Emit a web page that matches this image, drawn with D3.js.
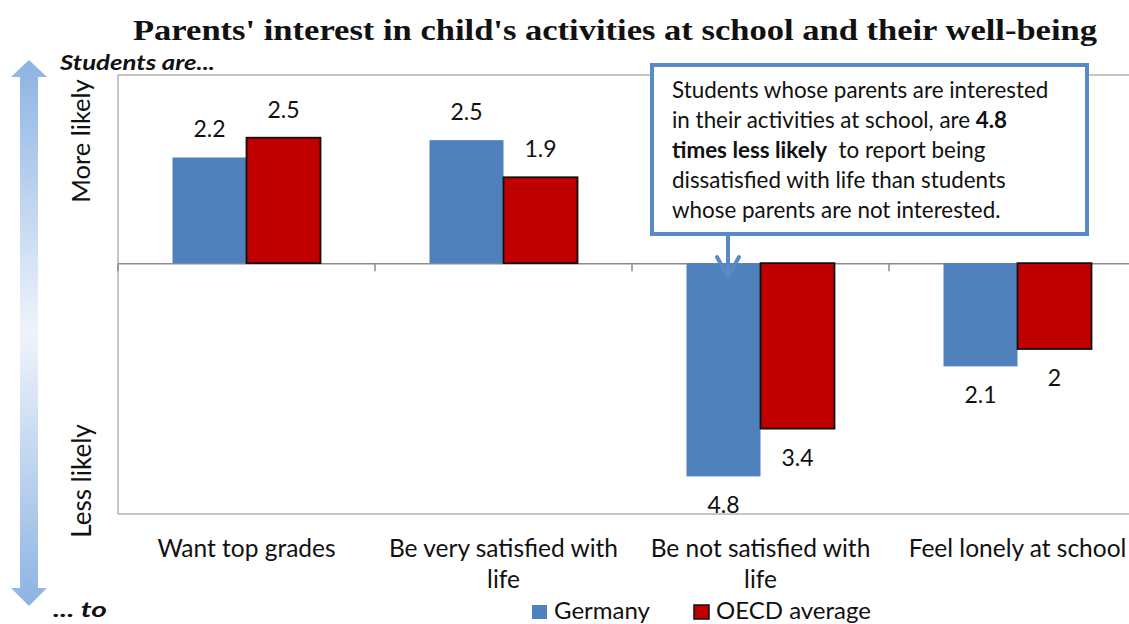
<!DOCTYPE html>
<html>
<head>
<meta charset="utf-8">
<script src="https://cdn.jsdelivr.net/npm/d3@7"></script>
<style>
  body { margin: 0; background: white; }
  svg { display: block; font-family: Lato, "Open Sans", sans-serif; }
</style>
</head>
<body>
<svg id="chart"></svg>
<script>
// categories and values
const categories = ["Want top grades", "Be very satisfied with life", "Be not satisfied with life", "Feel lonely at school"];
const categoryLines = [["Want top grades"], ["Be very satisfied with", "life"], ["Be not satisfied with", "life"], ["Feel lonely at school"]];
const series = ["Germany", "OECD average"];
// bar lengths as drawn (negative = less likely)
const germany = [2.19, 2.55, -4.42, -2.14];
const oecd = [2.6, 1.78, -3.43, -1.78];
// printed data labels
const germanyLabels = ["2.2", "2.5", "4.8", "2.1"];
const oecdLabels = ["2.5", "1.9", "3.4", "2"];

const colors = { "Germany": "#4f81bd", "OECD average": "#c00000" };

const width = 1129, height = 624;
const margin = { top: 75, right: -17, bottom: 110, left: 118 };

const svg = d3.select("#chart")
  .attr("width", width)
  .attr("height", height)
  .attr("viewBox", [0, 0, width, height]);

const x0 = d3.scaleBand()
  .domain(categories)
  .range([margin.left, width - margin.right])
  .padding(0);

const groupW = 148;
const x1 = d3.scaleBand()
  .domain(series)
  .range([(x0.bandwidth() - groupW) / 2, (x0.bandwidth() + groupW) / 2]);

const y = d3.scaleLinear()
  .domain([-5.2, 3.9])
  .range([height - margin.bottom, margin.top]);

// plot frame
const frame = svg.append("g").attr("stroke", "#b3b3b3").attr("stroke-width", 1.5).attr("fill", "none");
frame.append("line").attr("x1", margin.left).attr("x2", width).attr("y1", y(3.9)).attr("y2", y(3.9));
frame.append("line").attr("x1", margin.left).attr("x2", margin.left).attr("y1", y(3.9)).attr("y2", y(-5.2));
frame.append("line").attr("x1", margin.left).attr("x2", width).attr("y1", y(-5.2)).attr("y2", y(-5.2));

// category axis on the zero line
svg.append("g")
  .attr("transform", `translate(0,${y(0)})`)
  .call(d3.axisBottom(x0).tickSize(0).tickFormat(""))
  .call(g => {
    g.select(".domain").attr("stroke", "#8c8c8c").attr("stroke-width", 1.5);
    g.selectAll(".tick").remove();
  });

svg.append("g")
  .selectAll("line")
  .data(categories)
  .join("line")
    .attr("x1", d => x0(d))
    .attr("x2", d => x0(d))
    .attr("y1", y(0))
    .attr("y2", y(0) + 8)
    .attr("stroke", "#8c8c8c")
    .attr("stroke-width", 1.5);

const rows = [];
categories.forEach((c, i) => {
  rows.push({ cat: c, s: "Germany", v: germany[i], label: germanyLabels[i] });
  rows.push({ cat: c, s: "OECD average", v: oecd[i], label: oecdLabels[i] });
});

svg.append("g")
  .selectAll("rect")
  .data(rows)
  .join("rect")
    .attr("x", d => x0(d.cat) + x1(d.s))
    .attr("y", d => y(Math.max(0, d.v)))
    .attr("width", x1.bandwidth())
    .attr("height", d => Math.abs(y(d.v) - y(0)))
    .attr("fill", d => colors[d.s])
    .attr("stroke", d => d.s === "Germany" ? "none" : "#111")
    .attr("stroke-width", 1.8);

svg.append("g")
  .selectAll("text")
  .data(rows)
  .join("text")
    .attr("x", d => x0(d.cat) + x1(d.s) + x1.bandwidth() / 2)
    .attr("y", d => d.v >= 0 ? y(d.v) - 20 : y(d.v) + 37)
    .attr("text-anchor", "middle")
    .attr("font-size", 23)
    .attr("fill", "#111")
    .text(d => d.label);

// category labels
svg.append("g")
  .selectAll("text")
  .data(categories)
  .join("text")
    .attr("x", d => x0(d) + x0.bandwidth() / 2)
    .attr("y", 557)
    .attr("text-anchor", "middle")
    .attr("font-size", 24.5)
    .attr("fill", "#111")
    .each(function(d, i) {
      d3.select(this).selectAll("tspan")
        .data(categoryLines[i])
        .join("tspan")
          .attr("x", x0(d) + x0.bandwidth() / 2)
          .attr("dy", (t, j) => j === 0 ? 0 : 31)
          .text(t => t);
    });

// title
svg.append("text")
  .attr("x", 133)
  .attr("y", 40)
  .attr("font-family", "'Liberation Serif', 'DejaVu Serif', serif")
  .attr("font-weight", "bold")
  .attr("font-size", 30)
  .attr("textLength", 964)
  .attr("lengthAdjust", "spacingAndGlyphs")
  .attr("fill", "#111")
  .text("Parents' interest in child's activities at school and their well-being");

// left double arrow
const defs = svg.append("defs");
const grad = defs.append("linearGradient")
  .attr("id", "arrowGrad")
  .attr("x1", 0).attr("x2", 0).attr("y1", 0).attr("y2", 1);
grad.append("stop").attr("offset", "0%").attr("stop-color", "#8cb3e3");
grad.append("stop").attr("offset", "50%").attr("stop-color", "#eff4fb");
grad.append("stop").attr("offset", "100%").attr("stop-color", "#8cb3e3");

svg.append("path")
  .attr("d", "M29,60 L47,77 L38,77 L38,588 L47,588 L29,606 L11,588 L20,588 L20,77 L11,77 Z")
  .attr("fill", "url(#arrowGrad)");

svg.append("text")
  .attr("x", 60).attr("y", 70)
  .attr("font-size", 21.5).attr("font-weight", "bold").attr("font-style", "italic")
  .attr("textLength", 155).attr("lengthAdjust", "spacingAndGlyphs")
  .attr("fill", "#111")
  .text("Students are...");

svg.append("text")
  .attr("x", 53).attr("y", 617)
  .attr("font-size", 21.5).attr("font-weight", "bold").attr("font-style", "italic")
  .attr("textLength", 54).attr("lengthAdjust", "spacingAndGlyphs")
  .attr("fill", "#111")
  .text("... to");

svg.append("text")
  .attr("transform", "translate(90,141) rotate(-90)")
  .attr("text-anchor", "middle")
  .attr("font-size", 25.5)
  .attr("fill", "#111")
  .text("More likely");

svg.append("text")
  .attr("transform", "translate(91,481) rotate(-90)")
  .attr("text-anchor", "middle")
  .attr("font-size", 26)
  .attr("fill", "#111")
  .text("Less likely");

// legend
const legend = svg.append("g");
const legendX = [532, 694];
series.forEach((s, i) => {
  legend.append("rect")
    .attr("x", legendX[i]).attr("y", 605)
    .attr("width", 15).attr("height", 14)
    .attr("fill", colors[s])
    .attr("stroke", s === "Germany" ? "none" : "#111")
    .attr("stroke-width", 1.5);
  legend.append("text")
    .attr("x", legendX[i] + 22).attr("y", 619)
    .attr("font-size", 24)
    .attr("fill", "#111")
    .text(s);
});

// callout
const callout = svg.append("g");
const boxBlue = "#5a8ac6";
callout.append("line")
  .attr("x1", 728).attr("x2", 728).attr("y1", 235).attr("y2", 276)
  .attr("stroke", boxBlue).attr("stroke-width", 4);
callout.append("path")
  .attr("d", "M717,257 L728,277 L739,257")
  .attr("fill", "none").attr("stroke", boxBlue).attr("stroke-width", 4)
  .attr("stroke-linejoin", "round").attr("stroke-linecap", "round");
callout.append("rect")
  .attr("x", 652).attr("y", 65).attr("width", 435).attr("height", 169)
  .attr("fill", "white").attr("stroke", boxBlue).attr("stroke-width", 4);

const calloutLines = [
  [["Students whose parents are interested", false]],
  [["in their activities at school, are ", false], ["4.8", true]],
  [["times less likely", true], ["\u00a0 to report being", false]],
  [["dissatisfied with life than students", false]],
  [["whose parents are not interested.", false]]
];
const ct = callout.append("text")
  .attr("font-size", 22.4)
  .attr("fill", "#111");
calloutLines.forEach((parts, i) => {
  parts.forEach((p, j) => {
    const t = ct.append("tspan").text(p[0]).attr("font-weight", p[1] ? "bold" : "normal");
    if (j === 0) t.attr("x", 672).attr("y", 98 + i * 30);
  });
});
</script>
</body>
</html>
